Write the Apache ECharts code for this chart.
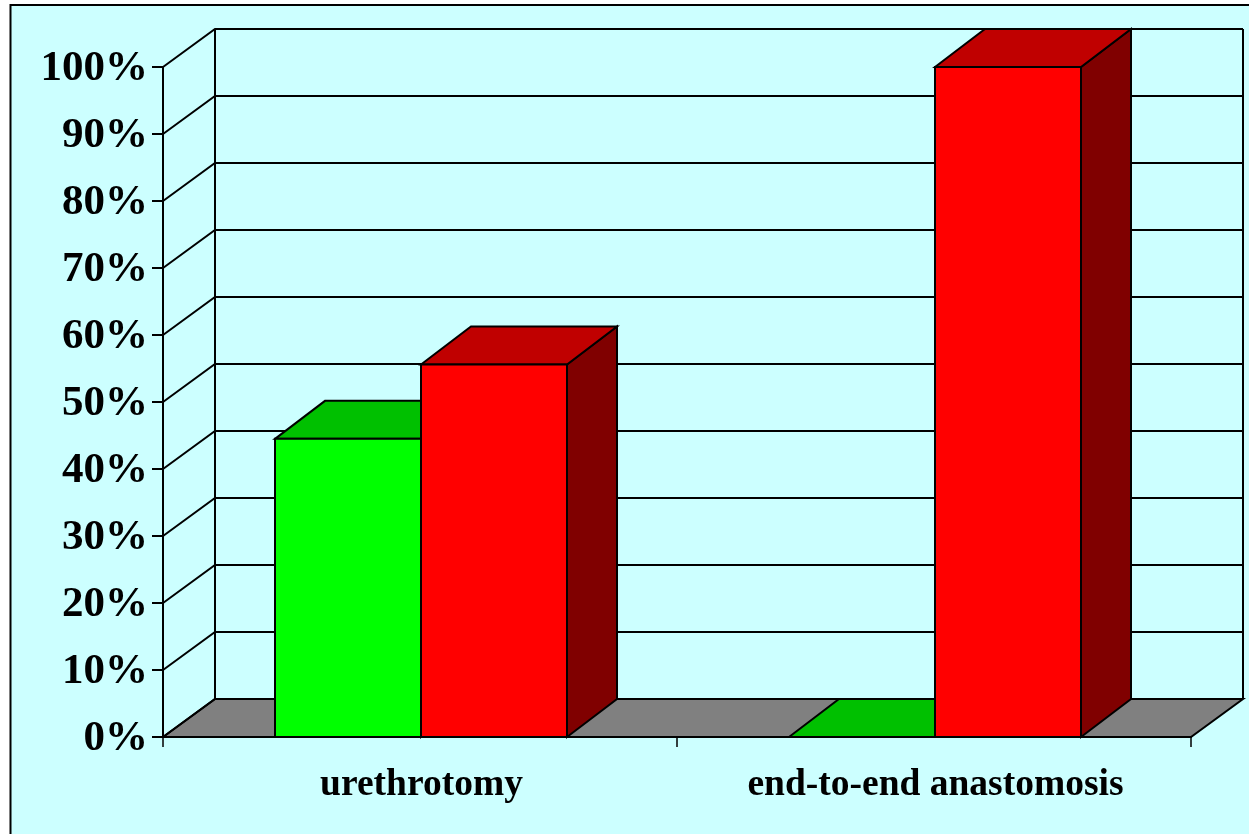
<!DOCTYPE html>
<html>
<head>
<meta charset="utf-8">
<title>urethrotomy vs end-to-end anastomosis</title>
<style>
	html,body{margin:0;padding:0;background:#fff;}
	#chart{width:1249px;height:834px;}
</style>
<script src="https://cdn.jsdelivr.net/npm/echarts@6/dist/echarts.min.js"></script>
</head>
<body>
<div id="chart"></div>
<script>
var categories = ['urethrotomy', 'end-to-end anastomosis'];
var greenValues = [44.5, 0];
var redValues = [55.6, 100];
var tickValues = [0, 10, 20, 30, 40, 50, 60, 70, 80, 90, 100];

var font = '"Liberation Serif", "Times New Roman", serif';
var wallDx = 52, wallDy = 38;	//back wall offset
var barDx = 50, barDy = 38;	//bar depth
var barRatio = 146 / 514;	//bar width in a category band
var barShift = 1;

//grid lines + floor, one item per tick
function renderWall(params, api) {
	var sys = params.coordSys;
	var v = api.value(0);
	var p = api.coord([0, v]);
	var y = p[1];
	var left = sys.x, right = sys.x + sys.width;
	var lineStyle = { stroke: '#000', lineWidth: 2, fill: null };
	var children = [];
	if (v === 0) {
		children.push({
			type: 'polygon',
			shape: { points: [[left, y], [left + wallDx, y - wallDy], [right + wallDx, y - wallDy], [right, y]] },
			style: { fill: '#808080', stroke: '#000', lineWidth: 2 }
		});
	}
	children.push({
		type: 'polyline',
		shape: { points: [[left, y], [left + wallDx, y - wallDy], [right + wallDx, y - wallDy]] },
		style: lineStyle
	});
	if (v === 100) {
		var bottom = api.coord([0, 0])[1];
		children.push({
			type: 'line',
			shape: { x1: left + wallDx, y1: y - wallDy, x2: left + wallDx, y2: bottom - wallDy },
			style: lineStyle
		});
		children.push({
			type: 'line',
			shape: { x1: right + wallDx, y1: y - wallDy, x2: right + wallDx, y2: bottom - wallDy },
			style: lineStyle
		});
	}
	return { type: 'group', children: children };
}

//one 3d bar. side = -1 left of the category centre, 1 right of it
function barRenderer(side, front, top, dark) {
	return function (params, api) {
		var centre = api.coord([api.value(0), 0]);
		var head = api.coord([api.value(0), api.value(1)]);
		var w = api.size([1, 0])[0] * barRatio;
		var x0 = centre[0] + barShift + (side < 0 ? -w : 0);
		var x1 = x0 + w;
		var y0 = centre[1], y1 = head[1];
		var edge = { stroke: '#000', lineWidth: 2, lineJoin: 'miter' };
		return {
			type: 'group',
			children: [{
				type: 'polygon',
				shape: { points: [[x1, y0], [x1 + barDx, y0 - barDy], [x1 + barDx, y1 - barDy], [x1, y1]] },
				style: Object.assign({ fill: dark }, edge)
			}, {
				type: 'polygon',
				shape: { points: [[x0, y1], [x0 + barDx, y1 - barDy], [x1 + barDx, y1 - barDy], [x1, y1]] },
				style: Object.assign({ fill: top }, edge)
			}, {
				type: 'polygon',
				shape: { points: [[x0, y0], [x0, y1], [x1, y1], [x1, y0]] },
				style: Object.assign({ fill: front }, edge)
			}]
		};
	};
}

function barData(values) {
	return values.map(function (v, i) { return [i, v]; });
}

var chart = echarts.init(document.getElementById('chart'), null, { renderer: 'canvas' });
chart.setOption({
	animation: false,
	backgroundColor: '#fff',
	graphic: [{
		type: 'rect',
		z: -10,
		shape: { x: 11, y: 5, width: 1238, height: 829 },
		style: { fill: '#ccffff' }
	}, {
		type: 'polyline',
		z: -9,
		shape: { points: [[10.5, 834], [10.5, 5], [1249, 5]] },
		style: { stroke: '#000', lineWidth: 2, fill: null }
	}],
	grid: { left: 163, right: 58, top: 67, bottom: 97 },
	xAxis: {
		type: 'category',
		data: categories,
		z: 5,
		axisLine: { lineStyle: { color: '#000', width: 2 } },
		axisTick: { show: true, length: 10, lineStyle: { color: '#000', width: 1.5 } },
		axisLabel: {
			color: '#000', fontFamily: font, fontWeight: 'bold', fontSize: 37.5, margin: 29,
			padding: [0, 0, 0, 3]
		}
	},
	yAxis: {
		type: 'value',
		min: 0,
		max: 100,
		interval: 10,
		z: 5,
		splitLine: { show: false },
		axisLine: { show: true, lineStyle: { color: '#000', width: 2 } },
		axisTick: { show: true, length: 11, lineStyle: { color: '#000', width: 2 } },
		axisLabel: {
			color: '#000', fontFamily: font, fontWeight: 'bold', fontSize: 43, margin: 15,
			verticalAlign: 'top',
			lineHeight: 4,	//moves the text 2px below its tick
			formatter: '{value}%'
		}
	},
	series: [{
		type: 'custom',
		renderItem: renderWall,
		data: tickValues.map(function (v) { return [v]; }),
		encode: { y: 0 },
		silent: true,
		z: 1
	}, {
		type: 'custom',
		renderItem: barRenderer(-1, '#00ff00', '#00c000', '#008000'),
		data: barData(greenValues),
		encode: { x: 0, y: 1 },
		silent: true,
		z: 2
	}, {
		type: 'custom',
		renderItem: barRenderer(1, '#ff0000', '#c00000', '#800000'),
		data: barData(redValues),
		encode: { x: 0, y: 1 },
		silent: true,
		z: 3
	}]
});
</script>
</body>
</html>
